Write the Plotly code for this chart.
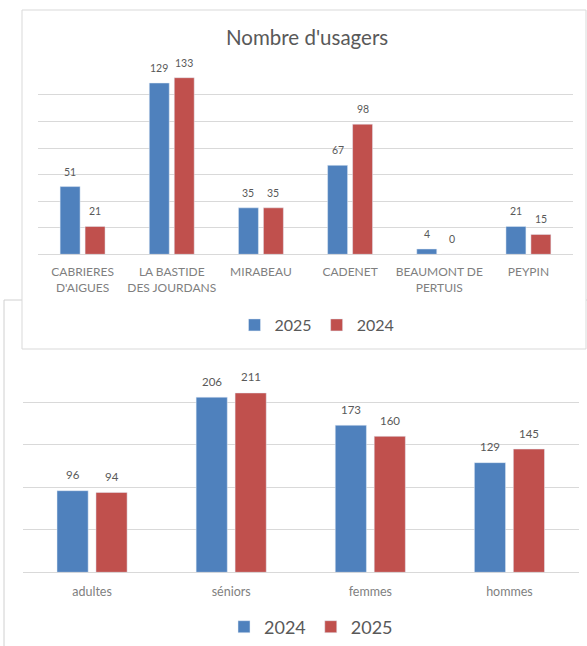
import plotly.graph_objects as go

W, H = 587, 646

# ---- data: top chart ----
villes = ["CABRIERES<br>D'AIGUES", "LA BASTIDE<br>DES JOURDANS", "MIRABEAU",
          "CADENET", "BEAUMONT DE<br>PERTUIS", "PEYPIN"]
usagers_2025 = [51, 129, 35, 67, 4, 21]
usagers_2024 = [21, 133, 35, 98, 0, 15]
titre_haut = "Nombre d'usagers"

# ---- data: bottom chart ----
groupes = ["adultes", "séniors", "femmes", "hommes"]
groupes_2024 = [96, 206, 173, 129]
groupes_2025 = [94, 211, 160, 145]

BLUE = "#4f81bd"
RED = "#c0504d"
FONT = "Lato, Open Sans, sans-serif"
LBL = "#595959"
TICK = "#7f7f7f"
GRID = "#d9d9d9"
BARGAP = 0.44
BARGROUPGAP = 0.2

def px(x):
    return x / W

def py(y):
    return 1 - y / H

TOP_DOM = [px(38), px(573)]
BOT_DOM = [px(22.5), px(579)]

fig = go.Figure()

fig.add_trace(go.Bar(x=villes, y=usagers_2025, name="2025", marker_color=BLUE,
                     xaxis="x", yaxis="y", legend="legend"))
fig.add_trace(go.Bar(x=villes, y=usagers_2024, name="2024", marker_color=RED,
                     xaxis="x", yaxis="y", legend="legend"))
fig.add_trace(go.Bar(x=groupes, y=groupes_2024, name="2024", marker_color=BLUE,
                     xaxis="x2", yaxis="y2", legend="legend2"))
fig.add_trace(go.Bar(x=groupes, y=groupes_2025, name="2025", marker_color=RED,
                     xaxis="x2", yaxis="y2", legend="legend2"))


def value_labels(cats, series, xref, yref, dom, size, yshift):
    """Data labels above each bar of a grouped bar chart."""
    cat_w = (dom[1] - dom[0]) * W / len(cats)
    slot = cat_w * (1 - BARGAP) / len(series)
    out = []
    n = len(series)
    for i, vals in enumerate(series):
        off = (i - (n - 1) / 2) * slot
        for c, v in zip(cats, vals):
            out.append(dict(x=c, y=v, xref=xref, yref=yref, text=str(v),
                            showarrow=False, xshift=off, yshift=yshift,
                            yanchor="middle", xanchor="center",
                            font=dict(size=size, color=LBL)))
    return out


annotations = [dict(text=titre_haut, xref="paper", yref="paper",
                    x=px(307), y=py(37), showarrow=False,
                    xanchor="center", yanchor="middle",
                    font=dict(size=20.5, color=LBL))]
annotations += value_labels(villes, [usagers_2025, usagers_2024], "x", "y",
                            TOP_DOM, 10.5, 15)
annotations += value_labels(groupes, [groupes_2024, groupes_2025], "x2", "y2",
                            BOT_DOM, 11.5, 16)

shapes = [
    # bottom chart frame (behind)
    dict(type="rect", xref="paper", yref="paper", x0=px(4), x1=px(600),
         y0=py(660), y1=py(300), line=dict(color="#d0d0d0", width=1),
         fillcolor="white", layer="below"),
    # top chart frame
    dict(type="rect", xref="paper", yref="paper", x0=px(22), x1=px(586),
         y0=py(349), y1=py(10), line=dict(color="#d9d9d9", width=1),
         fillcolor="white", layer="below"),
]

fig.update_layout(
    width=W, height=H,
    margin=dict(l=0, r=0, t=0, b=0),
    paper_bgcolor="white", plot_bgcolor="rgba(0,0,0,0)",
    font=dict(family=FONT, color=LBL),
    barmode="group", bargap=BARGAP, bargroupgap=BARGROUPGAP,
    showlegend=True,
    shapes=shapes,
    annotations=annotations,
    xaxis=dict(domain=TOP_DOM, anchor="y", showgrid=False,
               tickfont=dict(size=12, color=TICK), ticks="",
               ticklabelstandoff=9),
    yaxis=dict(domain=[py(254.3), py(68.4)], anchor="x", range=[0, 140],
               dtick=20, showticklabels=False, gridcolor=GRID,
               zeroline=True, zerolinecolor=GRID, zerolinewidth=1),
    xaxis2=dict(domain=BOT_DOM, anchor="y2", showgrid=False,
                tickfont=dict(size=12.5, color=TICK), ticks="",
                ticklabelstandoff=10),
    yaxis2=dict(domain=[py(572.3), py(359.8)], anchor="x2", range=[0, 250],
                dtick=50, showticklabels=False, gridcolor=GRID,
                zeroline=True, zerolinecolor=GRID, zerolinewidth=1),
    legend=dict(orientation="h", x=px(317), y=py(325), xanchor="center",
                yanchor="middle", font=dict(size=16, color=LBL),
                bgcolor="rgba(0,0,0,0)", itemwidth=30),
    legend2=dict(orientation="h", x=px(311), y=py(627), xanchor="center",
                 yanchor="middle", font=dict(size=18, color=LBL),
                 bgcolor="rgba(0,0,0,0)", itemwidth=30),
)

fig.write_html("out.html", config={"displayModeBar": False},
               post_script="document.body.style.margin='0px';")
